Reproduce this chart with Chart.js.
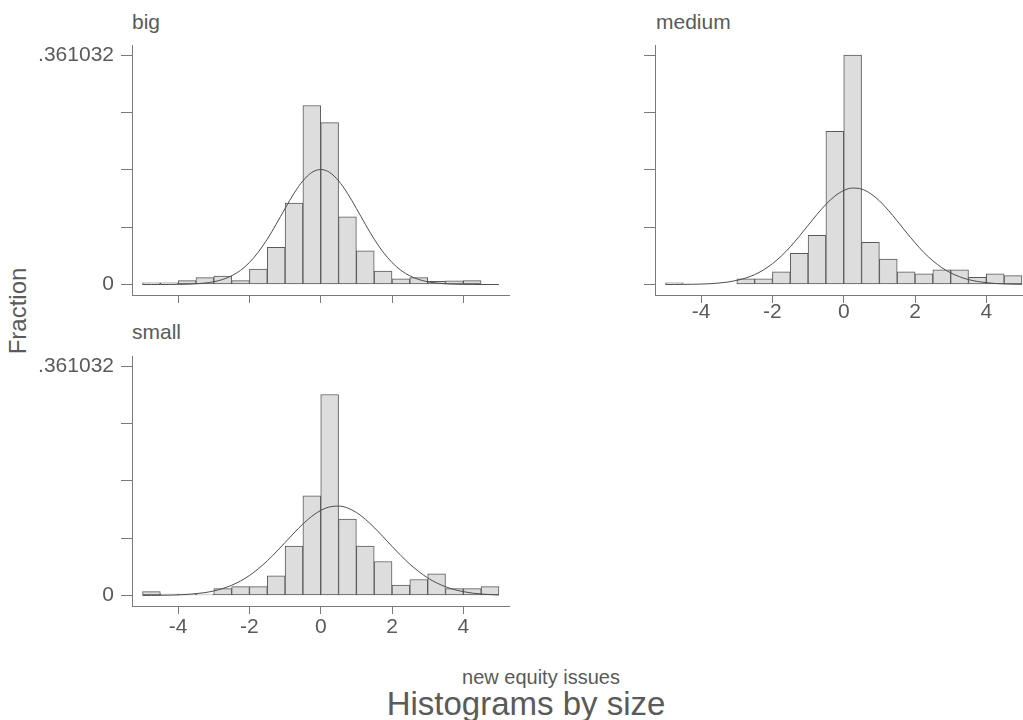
<!DOCTYPE html>
<html>
<head>
<meta charset="utf-8">
<script src="https://cdn.jsdelivr.net/npm/chart.js@4.4.1/dist/chart.umd.min.js"></script>
<style>
html,body{margin:0;padding:0;width:1023px;height:720px;overflow:hidden;background:#fff}
body{position:relative;font-family:"Liberation Sans",Arial,sans-serif;color:#5a5a5a}
canvas{position:absolute}
.txt{position:absolute;white-space:nowrap;line-height:1}
.mid{transform:translate(-50%,-50%)}
</style>
</head>
<body>
<div class="txt" style="left:132px;top:11px;font-size:21px">big</div>
<div class="txt" style="left:656px;top:11px;font-size:21px">medium</div>
<div class="txt" style="left:132px;top:321px;font-size:21px">small</div>
<div class="txt" style="left:18px;top:311px;font-size:24px;transform:translate(-50%,-50%) rotate(-90deg)">Fraction</div>
<div class="txt mid" style="left:541px;top:677px;font-size:20px">new equity issues</div>
<div class="txt mid" style="left:526px;top:703px;font-size:33px">Histograms by size</div>

<canvas id="c_big" width="503" height="309" style="left:7px;top:26px"></canvas>
<canvas id="c_medium" width="503" height="309" style="left:530px;top:26px"></canvas>
<canvas id="c_small" width="503" height="309" style="left:7px;top:337px"></canvas>

<script>
// bins of width .5 from -5 to 5, value = fraction of obs in the bin
const bin_centers = [-4.75,-4.25,-3.75,-3.25,-2.75,-2.25,-1.75,-1.25,-0.75,-0.25,
                     0.25,0.75,1.25,1.75,2.25,2.75,3.25,3.75,4.25,4.75]

const big_fraction = [0.0026,0.0026,0.0062,0.0108,0.0134,0.0062,0.0242,0.0587,0.1282,0.2817,
                      0.2549,0.1066,0.0530,0.0211,0.0088,0.0108,0.0052,0.0057,0.0062,0]
const medium_fraction = [0.0026,0,0,0,0.0088,0.0088,0.0201,0.0489,0.0773,0.2410,
                         0.361032,0.0664,0.0402,0.0201,0.0170,0.0232,0.0232,0.0113,0.0170,0.0139]
const small_fraction = [0.0062,0.0021,0.0021,0.0021,0.0108,0.0139,0.0139,0.0309,0.0777,0.1569,
                        0.3164,0.1204,0.0777,0.0535,0.0165,0.0252,0.0340,0.0108,0.0108,0.0139]

// normal overlay, heights every .25
const curve_x = [-5,-4.75,-4.5,-4.25,-4,-3.75,-3.5,-3.25,-3,-2.75,-2.5,-2.25,-2,-1.75,-1.5,-1.25,-1,-0.75,-0.5,-0.25,
                 0,0.25,0.5,0.75,1,1.25,1.5,1.75,2,2.25,2.5,2.75,3,3.25,3.5,3.75,4,4.25,4.5,4.75,5]
const big_curve = [0,0,0,0.0001,0.0002,0.0005,0.0011,0.0023,0.0044,0.0079,0.0137,0.0223,0.0347,0.0511,0.0714,0.0949,0.1197,0.1435,0.1632,0.1764,
                   0.1810,0.1764,0.1632,0.1435,0.1197,0.0949,0.0714,0.0511,0.0347,0.0223,0.0137,0.0079,0.0044,0.0023,0.0011,0.0005,0.0002,0.0001,0,0,0]
const medium_curve = [0,0.0001,0.0002,0.0004,0.0007,0.0013,0.0023,0.0039,0.0065,0.0102,0.0156,0.0230,0.0328,0.0449,0.0593,0.0757,0.0931,0.1103,0.1262,0.1391,
                      0.1480,0.1518,0.1502,0.1432,0.1318,0.1169,0.1000,0.0826,0.0657,0.0504,0.0373,0.0266,0.0183,0.0122,0.0078,0.0048,0.0029,0.0016,0.0009,0.0005,0.0003]
const small_curve = [0.0001,0.0002,0.0003,0.0006,0.0010,0.0017,0.0029,0.0046,0.0072,0.0110,0.0161,0.0229,0.0315,0.0421,0.0546,0.0685,0.0834,0.0984,0.1125,0.1247,
                     0.1340,0.1395,0.1408,0.1378,0.1307,0.1201,0.1070,0.0924,0.0774,0.0628,0.0494,0.0377,0.0278,0.0199,0.0139,0.0093,0.0061,0.0038,0.0024,0.0014,0.0008]

const x_ticks = [-4,-2,0,2,4]
const y_ticks = [0,0.090258,0.180516,0.270774,0.361032]
const y_labels = ['0','','','','.361032']

const axis_color = '#7a7a7a'
const text_color = '#5a5a5a'


function make_panel(id, fractions, curve, label_x, label_y, x_pad) {
    new Chart(document.getElementById(id), {
        type: 'bar',
        data: {
            datasets: [
                {
                    type: 'line',
                    data: curve_x.map((x, i) => ({x: x, y: curve[i]})),
                    borderColor: '#4d4d4d',
                    borderWidth: 1,
                    pointRadius: 0,
                    cubicInterpolationMode: 'monotone',
                    order: 0
                },
                {
                    type: 'bar',
                    // empty bins are left out
                    data: bin_centers.map((x, i) => ({x: x, y: fractions[i] || null})),
                    backgroundColor: '#dddddd',
                    borderColor: '#595959',
                    borderWidth: 1,
                    borderSkipped: false,
                    barPercentage: 1,
                    categoryPercentage: 1,
                    grouped: false,
                    order: 1
                }
            ]
        },
        options: {
            responsive: false,
            animation: false,
            events: [],
            layout: {padding: {top: 15, left: 0, right: 0, bottom: 0}},
            plugins: {legend: {display: false}, tooltip: {enabled: false}},
            scales: {
                x: {
                    type: 'linear',
                    offset: false,
                    min: -5.295,
                    max: 5.31,
                    afterBuildTicks: s => { s.ticks = x_ticks.map(v => ({value: v})) },
                    afterFit: s => { s.height = 40 },
                    grid: {offset: false, drawOnChartArea: false, tickLength: 8, color: axis_color},
                    border: {color: axis_color},
                    ticks: {
                        autoSkip: false,
                        maxRotation: 0,
                        padding: x_pad,
                        color: text_color,
                        font: {family: '"Liberation Sans", Arial, sans-serif', size: 21},
                        callback: v => label_x ? String(v) : ''
                    }
                },
                y: {
                    type: 'linear',
                    min: -0.0165,
                    max: 0.376,
                    afterBuildTicks: s => { s.ticks = y_ticks.map(v => ({value: v})) },
                    afterFit: s => { s.width = 125 },
                    grid: {drawOnChartArea: false, tickLength: 11, color: axis_color},
                    border: {color: axis_color},
                    ticks: {
                        autoSkip: false,
                        padding: 7,
                        color: text_color,
                        font: {family: '"Liberation Sans", Arial, sans-serif', size: 21},
                        callback: (v, i) => label_y ? y_labels[i] : ''
                    }
                }
            }
        }
    })
}

make_panel('c_big', big_fraction, big_curve, false, true, 0)
make_panel('c_medium', medium_fraction, medium_curve, true, false, -3)
make_panel('c_small', small_fraction, small_curve, true, true, 1)
</script>
</body>
</html>
